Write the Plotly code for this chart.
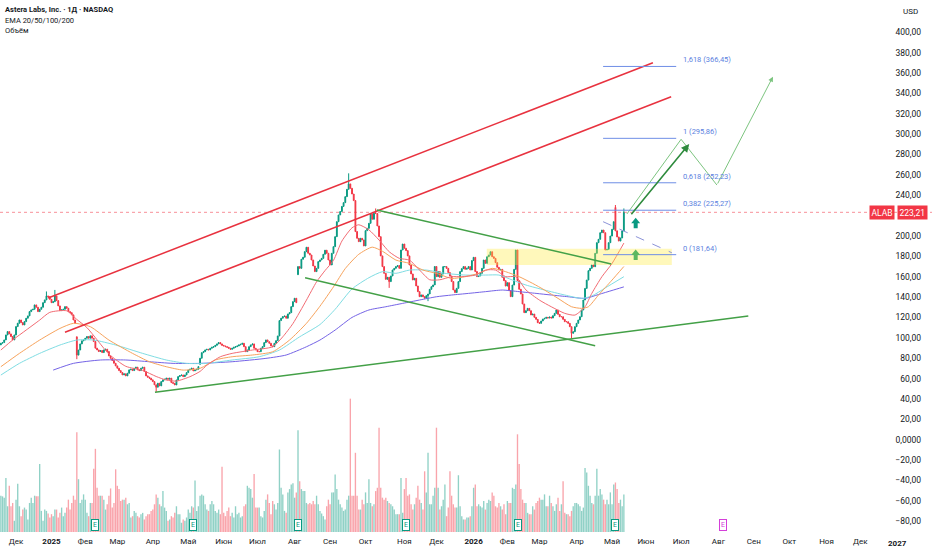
import pandas as pd
import plotly.graph_objects as go

# NYSE holidays, used to build the trading-day calendar (x axis = bar number)
holidays = ["2024-11-28", "2024-12-25", "2025-01-01", "2025-01-09", "2025-01-20",
            "2025-02-17", "2025-04-18", "2025-05-26", "2025-06-19", "2025-07-04",
            "2025-09-01", "2025-11-27", "2025-12-25", "2026-01-01", "2026-01-19",
            "2026-02-16", "2026-04-03", "2026-05-25", "2026-06-19", "2026-07-03",
            "2026-09-07", "2026-11-26", "2026-12-25", "2027-01-01"]
month_names = ["Янв", "Фев", "Мар", "Апр", "Май", "Июн", "Июл", "Авг", "Сен", "Окт", "Ноя", "Дек"]

# daily closes from 2024-11-18
closes = [
    94.7, 95.3, 97.9, 102.8, 106.1, 103.8, 101.2, 97.9, 102.8, 111.0,
    114.3, 117.5, 114.9, 112.6, 115.9, 119.2, 121.5, 125.7, 127.4, 128.0,
    132.3, 130.0, 125.7, 128.0, 130.0, 134.5, 137.2, 141.1, 140.4, 137.8,
    134.5, 135.5, 141.1, 136.5, 131.3, 126.7, 127.4, 128.0, 130.6, 129.0,
    125.7, 124.7, 122.5, 117.5, 114.3, 83.0, 88.0, 94.0, 97.0, 97.9,
    99.6, 101.2, 99.6, 101.9, 99.6, 96.3, 89.8, 88.1, 86.5, 87.5,
    85.5, 88.1, 88.8, 86.5, 82.2, 79.9, 77.7, 75.0, 72.4, 70.1,
    67.8, 65.9, 63.6, 64.6, 62.6, 65.2, 68.5, 69.2, 67.8, 70.1,
    71.1, 68.5, 67.8, 70.1, 71.1, 66.9, 62.6, 61.3, 60.3, 58.7,
    57.0, 53.8, 51.5, 55.4, 52.8, 57.0, 58.7, 59.3, 60.3, 59.3,
    60.3, 56.0, 55.3, 53.7, 58.6, 61.9, 62.9, 63.5, 61.9, 63.5,
    65.8, 68.4, 69.1, 70.1, 67.5, 68.4, 69.1, 71.7, 79.9, 85.4,
    86.4, 88.1, 88.7, 88.1, 89.7, 90.7, 91.3, 92.6, 94.0, 95.3,
    94.0, 92.6, 92.0, 91.3, 90.7, 89.7, 88.7, 89.7, 90.7, 91.3,
    92.0, 93.0, 93.6, 94.6, 91.3, 86.4, 88.1, 91.3, 93.0, 94.0,
    89.7, 88.1, 86.4, 86.4, 89.7, 91.3, 95.3, 97.9, 96.2, 94.6,
    92.0, 91.3, 94.6, 97.2, 101.8, 116.9, 119.2, 120.8, 121.4, 119.2,
    123.4, 124.7, 130.6, 135.5, 138.8, 134.5, 169.9, 168.2, 177.1, 179.1,
    184.6, 188.9, 183.0, 181.3, 176.4, 170.5, 165.0, 168.2, 174.8, 176.4,
    178.0, 182.0, 186.0, 183.0, 176.4, 171.5, 183.0, 189.5, 199.3, 214.0,
    220.6, 224.0, 229.0, 232.7, 238.6, 245.8, 251.1, 246.8, 241.2, 234.7,
    204.3, 197.7, 194.4, 197.7, 196.1, 190.2, 205.2, 207.5, 212.4, 221.6,
    216.4, 222.3, 222.0, 209.8, 199.3, 180.4, 169.9, 163.3, 157.4, 159.4,
    155.2, 160.7, 166.6, 168.2, 169.9, 170.9, 168.2, 186.2, 192.1, 187.9,
    185.6, 180.4, 171.5, 162.7, 156.8, 158.4, 150.9, 145.3, 140.4, 142.1,
    140.4, 138.8, 141.4, 143.0, 147.6, 150.2, 151.9, 170.0, 160.1, 165.0,
    159.4, 162.7, 169.9, 169.9, 168.2, 164.0, 160.7, 155.2, 147.0, 144.4,
    148.6, 155.2, 165.0, 167.9, 169.9, 167.3, 168.2, 169.9, 166.6, 175.8,
    179.0, 165.0, 160.1, 160.7, 163.3, 168.2, 176.4, 173.1, 179.6, 181.3,
    184.5, 179.6, 178.0, 173.8, 169.2, 166.6, 167.2, 159.4, 156.1, 150.8,
    154.1, 146.3, 140.4, 151.8, 167.2, 186.2, 156.1, 147.6, 143.0, 133.2,
    124.7, 126.6, 128.9, 126.6, 122.4, 123.3, 120.1, 118.1, 114.8, 114.2,
    116.5, 118.4, 119.1, 120.1, 119.4, 120.4, 119.4, 121.7, 124.0, 127.3,
    123.0, 120.7, 120.7, 118.1, 115.8, 115.8, 114.2, 110.9, 104.4, 106.0,
    110.9, 114.2, 117.5, 120.7, 127.3, 137.1, 148.5, 156.7, 165.9, 168.2,
    171.5, 169.8, 182.9, 193.4, 196.7, 203.2, 205.8, 203.2, 186.2, 186.8,
    193.4, 199.9, 206.5, 214.0, 205.0, 199.0, 195.0, 198.0, 205.0, 223.21,
]

# volume, millions of shares
volumes = [
    5.5, 5.4, 5.2, 8.2, 3.9, 7.0, 3.9, 4.4, 1.7, 4.9,
    7.3, 3.9, 2.4, 3.4, 3.7, 3.4, 1.9, 4.4, 5.2, 4.4,
    5.5, 5.4, 5.4, 10.3, 3.2, 1.7, 3.4, 3.2, 2.8, 2.2,
    2.7, 2.4, 3.4, 3.4, 2.2, 2.9, 3.7, 2.4, 2.9, 3.7,
    4.9, 3.4, 4.4, 5.5, 4.9, 15.1, 8.0, 4.4, 4.9, 5.7,
    4.9, 2.9, 2.4, 4.4, 4.4, 9.6, 12.6, 6.7, 5.5, 5.5,
    5.5, 4.9, 3.4, 4.2, 5.5, 6.6, 3.7, 4.4, 9.5, 7.0,
    6.5, 4.7, 4.9, 4.9, 5.2, 4.2, 4.4, 2.2, 2.4, 3.2,
    2.9, 2.4, 2.2, 2.7, 2.9, 1.9, 2.4, 2.7, 2.7, 3.2,
    3.4, 4.2, 5.7, 5.2, 4.2, 3.9, 6.2, 3.7, 3.2, 1.7,
    1.9, 2.4, 2.2, 2.9, 3.9, 2.7, 2.7, 1.4, 1.9, 1.7,
    2.2, 3.4, 2.9, 3.9, 3.7, 7.8, 3.2, 3.9, 5.5, 5.7,
    5.5, 4.2, 3.4, 3.2, 4.2, 4.7, 4.2, 3.2, 2.9, 3.4,
    2.7, 9.9, 2.9, 2.4, 3.2, 3.7, 2.4, 2.9, 2.2, 3.9,
    2.7, 2.9, 2.2, 2.4, 3.9, 4.2, 7.0, 6.7, 6.5, 5.2,
    8.8, 3.7, 3.7, 3.7, 2.4, 2.2, 3.2, 4.9, 5.7, 4.4,
    2.7, 4.7, 4.2, 3.4, 4.4, 12.5, 6.7, 5.7, 3.2, 2.9,
    6.0, 6.5, 7.2, 7.4, 5.2, 6.0, 15.4, 7.7, 6.5, 6.2,
    6.2, 4.4, 4.2, 4.4, 4.2, 4.7, 4.2, 5.5, 4.2, 3.2,
    2.8, 2.4, 1.9, 3.9, 4.9, 4.2, 6.0, 6.0, 8.7, 6.5,
    4.9, 4.2, 3.7, 3.2, 3.4, 4.9, 5.5, 20.2, 5.5, 5.5,
    12.0, 5.5, 3.4, 3.4, 4.9, 4.2, 6.0, 4.4, 8.0, 4.4,
    3.9, 4.2, 6.2, 6.7, 15.8, 6.7, 5.2, 4.9, 5.2, 4.7,
    4.4, 4.2, 3.9, 3.4, 2.7, 2.7, 2.7, 8.2, 2.9, 6.5,
    8.2, 5.5, 5.7, 4.2, 3.4, 4.2, 5.2, 7.0, 4.9, 4.4,
    3.4, 9.2, 6.0, 12.0, 4.2, 4.2, 5.5, 6.7, 15.8, 6.7,
    3.4, 3.9, 4.9, 7.2, 2.4, 3.7, 9.2, 5.5, 4.2, 3.7,
    3.7, 8.6, 3.9, 2.4, 1.9, 1.9, 2.2, 2.2, 2.4, 3.9,
    6.7, 7.2, 3.9, 4.2, 3.9, 3.7, 4.7, 3.4, 4.4, 4.9,
    4.7, 6.0, 5.5, 3.9, 3.7, 4.4, 3.9, 3.4, 4.2, 2.7,
    4.7, 4.4, 4.4, 6.7, 6.5, 7.2, 14.8, 10.3, 6.5, 4.9,
    4.4, 4.4, 2.9, 2.7, 2.7, 3.9, 3.4, 4.4, 4.7, 5.2,
    4.9, 4.9, 5.7, 3.9, 3.9, 5.5, 4.4, 3.9, 3.2, 4.2,
    5.2, 3.2, 4.2, 7.7, 2.9, 2.7, 2.7, 2.4, 3.2, 3.9,
    4.4, 4.4, 4.2, 3.9, 3.2, 3.7, 9.7, 9.0, 7.0, 5.5,
    4.4, 4.2, 5.5, 9.6, 5.5, 6.5, 5.7, 4.9, 4.2, 4.9,
    4.2, 6.0, 4.2, 7.2, 7.5, 6.5, 4.4, 4.9, 3.9, 5.7,
]

# opens that gap away from the previous close, and visible wicks
gap_opens = {0: 93.0, 45: 101.0, 118: 74.0, 176: 162.0, 364: 228.0}
wick_highs = {27: 145.5, 32: 147.0, 206: 261.5, 222: 227.0, 364: 230.4, 369: 227.0}
wick_lows = {45: 79.0, 92: 47.0, 230: 149.0, 253: 136.0, 338: 99.5}

# EMA readings (bar number, value)
ema20 = [(0, 88), (7, 97.8), (15, 107.6), (23, 117.4), (29, 125), (39, 126.5), (45, 118), (51, 110),
         (57, 98), (64, 84), (74, 72), (84, 68), (92, 62), (98, 58.5), (104, 57.5), (112, 61.8),
         (118, 67), (122, 73), (130, 81.4), (137, 84.7), (149, 88), (161, 91.2), (167, 101), (173, 114),
         (181, 137), (187, 155), (192, 166), (197, 176), (202, 195), (208, 208), (212, 211), (218, 206),
         (224, 196), (230, 184.5), (236, 178), (242, 176.3), (248, 166.5), (254, 157), (260, 157),
         (267, 160), (273, 160), (281, 161.6), (287, 166.5), (293, 166.5), (299, 160), (305, 160),
         (311, 147), (319, 137), (326, 130.5), (334, 124), (340, 122.3), (346, 130.5), (350, 143.6),
         (356, 160), (362, 173), (369, 193)]
ema50 = [(0, 71.6), (11, 84.7), (23, 97.8), (35, 109.2), (43, 114.2), (53, 110.9), (64, 97.8), (78, 84.7),
         (88, 76.5), (98, 71.6), (108, 68.3), (118, 70), (127, 78.2), (137, 81.4), (149, 83.1), (161, 86.3),
         (171, 97.8), (181, 114.2), (189, 131), (197, 150), (204, 168), (212, 182), (220, 189), (226, 185),
         (234, 176.3), (242, 173.1), (250, 166.5), (258, 163.3), (267, 158.3), (275, 160), (283, 163.3),
         (291, 168.2), (299, 164.9), (307, 160), (315, 153.4), (322, 146.9), (330, 138.7), (338, 130.5),
         (344, 128.9), (348, 130.5), (354, 142), (362, 156.7), (369, 170)]
ema100 = [(0, 63.4), (11, 74.9), (23, 84.7), (35, 92.9), (45, 97.8), (55, 97.8), (68, 92.9), (84, 84.7),
          (98, 78.2), (110, 74.9), (122, 74.9), (137, 78.2), (153, 81.4), (165, 88), (177, 101), (189, 113),
          (198, 128), (208, 148), (218, 159), (226, 164.9), (234, 163.3), (242, 166.5), (252, 166.5),
          (263, 163.3), (275, 161.6), (287, 161.6), (295, 161.6), (303, 156.7), (311, 151.8), (322, 146.9),
          (334, 142), (344, 138.7), (350, 141), (358, 149), (369, 160)]
ema200 = [(31, 68.3), (43, 74.9), (59, 78.2), (74, 78.2), (88, 76.5), (102, 74.9), (118, 74.9), (137, 76.5),
          (157, 79.8), (169, 83.1), (181, 91.2), (189, 97.8), (198, 107.6), (208, 120), (218, 127.3),
          (228, 130.5), (238, 133.8), (248, 137.1), (258, 140.3), (267, 142), (277, 143.6), (287, 145.3),
          (297, 146.9), (307, 145.3), (317, 143.6), (326, 142), (336, 140.3), (346, 138.7), (354, 142.5),
          (362, 146.5), (369, 150)]

# drawings (bar number, price)
red_channel_top = [(28.0, 139.1), (386.2, 370.1)]
red_channel_bottom = [(38.0, 105.4), (397.0, 336.7)]
support_line = [(91.3, 46.5), (442.7, 121.4)]
falling_top = [(222.7, 225.5), (361.5, 172.5)]
falling_bottom = [(180.2, 159.0), (352.0, 92.2)]
zone = [(287.8, 171.5), (397.4, 187.5)]
fib_span = (356.7, 400.0)
fib_levels = [("1,618", 366.45), ("1", 295.86), ("0,618", 252.23), ("0,382", 225.27), ("0", 181.64)]
dashed_line = [(356.7, 214.0), (397.4, 183.5)]
main_arrow = [(372.7, 219.9), (407.7, 290.3)]
scenario_path = [(370.8, 221.6), (402.9, 294.9), (424.1, 250.0), (457.3, 356.4)]
block_arrows = [(376, 207.5, "#089981"), (376, 176.4, "#5cb860")]
earnings = ["2025-02-11", "2025-05-06", "2025-08-05", "2025-11-04", "2026-02-10", "2026-05-05", "2026-08-06"]
last_price = 223.21
price_ticks = [400, 380, 360, 340, 320, 300, 280, 260, 240, 200, 180, 160, 140, 120, 100,
               80, 60, 40, 20, 0, -20, -40, -60, -80]

UP = "#089981"
DOWN = "#f23645"
TXT = "#131722"
FONT = "Roboto"

cal = pd.bdate_range("2024-11-18", "2027-01-29")
cal = cal[~cal.isin(pd.to_datetime(holidays))]


def bar_of(day):
    return int(cal.get_loc(pd.Timestamp(day)))


n = len(closes)
x = list(range(n))
opens = [gap_opens.get(i, closes[i - 1] if i else closes[0]) for i in range(n)]
highs = [wick_highs.get(i, max(o, c)) for i, (o, c) in enumerate(zip(opens, closes))]
lows = [wick_lows.get(i, min(o, c)) for i, (o, c) in enumerate(zip(opens, closes))]
vol_colors = ["rgba(8,153,129,0.45)" if c >= o else "rgba(242,54,69,0.45)" for o, c in zip(opens, closes)]

# month labels on the first trading day of each month
tickvals, ticktext = [], []
prev = (cal[0].year, cal[0].month)
for i, d in enumerate(cal):
    if (d.year, d.month) != prev:
        tickvals.append(i)
        ticktext.append(f"<b>{d.year}</b>" if d.month == 1 else month_names[d.month - 1])
        prev = (d.year, d.month)


def price_label(v):
    if v == 0:
        return "0,0000"
    s = f"{abs(v):.2f}".replace(".", ",")
    return ("\u2212" + s) if v < 0 else s


fig = go.Figure()

fig.add_trace(go.Bar(x=x, y=volumes, marker_color=vol_colors, marker_line_width=0,
                     yaxis="y2", hoverinfo="skip"))

fig.add_trace(go.Candlestick(
    x=x, open=opens, high=highs, low=lows, close=closes,
    increasing=dict(line=dict(color=UP, width=1), fillcolor=UP),
    decreasing=dict(line=dict(color=DOWN, width=1), fillcolor=DOWN),
    whiskerwidth=0,
))

for pts, color in [(ema200, "#7463e6"), (ema100, "#7fdde3"), (ema50, "#f7a35c"), (ema20, "#f26b73")]:
    fig.add_trace(go.Scatter(x=[p[0] for p in pts], y=[p[1] for p in pts], mode="lines",
                             line=dict(color=color, width=1, shape="spline", smoothing=0.6),
                             hoverinfo="skip"))

# thin scenario path (last leg gets an arrow head below)
fig.add_trace(go.Scatter(x=[p[0] for p in scenario_path[:3]], y=[p[1] for p in scenario_path[:3]],
                         mode="lines", line=dict(color="#7cc47f", width=1), hoverinfo="skip"))


def seg(pts, color, width=1.5, dash=None):
    (x0, y0), (x1, y1) = pts
    return dict(type="line", x0=x0, y0=y0, x1=x1, y1=y1, xref="x", yref="y",
                line=dict(color=color, width=width, dash=dash))


shapes = [
    dict(type="rect", x0=zone[0][0], x1=zone[1][0], y0=zone[0][1], y1=zone[1][1],
         fillcolor="rgba(255,235,59,0.35)", line_width=0, layer="above"),
    dict(type="line", xref="paper", x0=0, x1=1, y0=last_price, y1=last_price,
         line=dict(color="rgba(242,54,69,0.55)", width=1, dash="dot")),
    seg(red_channel_top, "#e8323f"),
    seg(red_channel_bottom, "#e8323f"),
    seg(support_line, "#43a047"),
    seg(falling_top, "#43a047"),
    seg(falling_bottom, "#43a047"),
    seg(dashed_line, "#8c93d8", 1, "dash"),
]
for _, lvl in fib_levels:
    shapes.append(dict(type="line", x0=fib_span[0], x1=fib_span[1], y0=lvl, y1=lvl,
                       line=dict(color="#6f8ee6", width=1)))
for bx, by, col in block_arrows:
    shapes.append(dict(type="path", xsizemode="pixel", ysizemode="pixel", xanchor=bx, yanchor=by,
                       path="M-2,0 L2,0 L2,5 L4.5,5 L0,10.5 L-4.5,5 L-2,5 Z",
                       fillcolor=col, line=dict(width=0)))

annotations = []


def arrow(tail, head, color, width):
    return dict(x=head[0], y=head[1], ax=tail[0], ay=tail[1], xref="x", yref="y",
                axref="x", ayref="y", text="", showarrow=True, arrowhead=2, arrowsize=1,
                arrowwidth=width, arrowcolor=color, standoff=0, startstandoff=0)


annotations.append(arrow(main_arrow[0], main_arrow[1], "#2e8b3d", 1.6))
annotations.append(arrow(scenario_path[2], scenario_path[3], "#7cc47f", 1))

for name, lvl in fib_levels:
    annotations.append(dict(x=fib_span[1] + 3, y=lvl, xref="x", yref="y", xanchor="left",
                            yanchor="bottom", showarrow=False, text=f"{name} ({lvl:.2f})".replace(".", ","),
                            font=dict(family=FONT, size=7.5, color="#5b7fe0")))

for i, day in enumerate(earnings):
    col = "#089981" if i < len(earnings) - 1 else "#d43fd9"
    annotations.append(dict(x=bar_of(day), y=0, xref="x", yref="paper", yanchor="bottom", yshift=1,
                            text="E", showarrow=False, font=dict(family=FONT, size=7, color=col),
                            bgcolor="white", bordercolor=col, borderwidth=1, borderpad=1))

annotations += [
    dict(x=0, y=1, xref="paper", yref="paper", xanchor="left", yanchor="top", xshift=3, yshift=-3,
         text="<b>Astera Labs, Inc. · 1Д · NASDAQ</b>", showarrow=False,
         font=dict(family=FONT, size=7.5, color=TXT)),
    dict(x=0, y=1, xref="paper", yref="paper", xanchor="left", yanchor="top", xshift=3, yshift=-14,
         text="EMA 20/50/100/200", showarrow=False, font=dict(family=FONT, size=7.5, color=TXT)),
    dict(x=0, y=1, xref="paper", yref="paper", xanchor="left", yanchor="top", xshift=3, yshift=-24,
         text="Объём", showarrow=False, font=dict(family=FONT, size=7.5, color=TXT)),
    dict(x=1, y=1, xref="paper", yref="paper", xanchor="right", yanchor="top", xshift=-12, yshift=-5,
         text="USD", showarrow=False, font=dict(family=FONT, size=8, color=TXT)),
    dict(x=1, y=last_price, xref="paper", yref="y", xanchor="right", xshift=-4,
         text=price_label(last_price), showarrow=False, bgcolor=DOWN, borderpad=1.5,
         font=dict(family=FONT, size=8.5, color="white")),
    dict(x=1, y=last_price, xref="paper", yref="y", xanchor="right", xshift=-37,
         text="ALAB", showarrow=False, bgcolor=DOWN, borderpad=1.5,
         font=dict(family=FONT, size=8.5, color="white")),
    # the January label at the right edge is dropped by plotly next to the inside price labels
    dict(x=tickvals[-1], y=0, xref="x", yref="paper", yanchor="top", yshift=-5,
         text=ticktext[-1], showarrow=False, font=dict(family=FONT, size=8, color=TXT)),
]

fig.update_layout(
    width=932, height=550,
    margin=dict(l=0, r=0, t=0, b=18),
    plot_bgcolor="white", paper_bgcolor="white",
    showlegend=False,
    shapes=shapes,
    annotations=annotations,
    xaxis=dict(range=[-0.5, 551.5], tickvals=tickvals, ticktext=ticktext, showgrid=False,
               zeroline=False, showline=False, ticks="", rangeslider=dict(visible=False),
               ticklabelstandoff=3, tickfont=dict(family=FONT, size=8, color=TXT)),
    yaxis=dict(side="right", range=[-90.7, 431.7], tickvals=price_ticks,
               ticktext=[price_label(v) for v in price_ticks], ticklabelposition="inside",
               ticklabelstandoff=8, showgrid=False, zeroline=False, showline=False, ticks="",
               tickfont=dict(family=FONT, size=8.5, color=TXT)),
    yaxis2=dict(overlaying="y", range=[0, 80.6], visible=False),
)

# the page body has a default margin; drop it so the figure fills the window
fig.write_html("out.html", config={"displayModeBar": False},
               post_script="document.body.style.margin='0px';")
